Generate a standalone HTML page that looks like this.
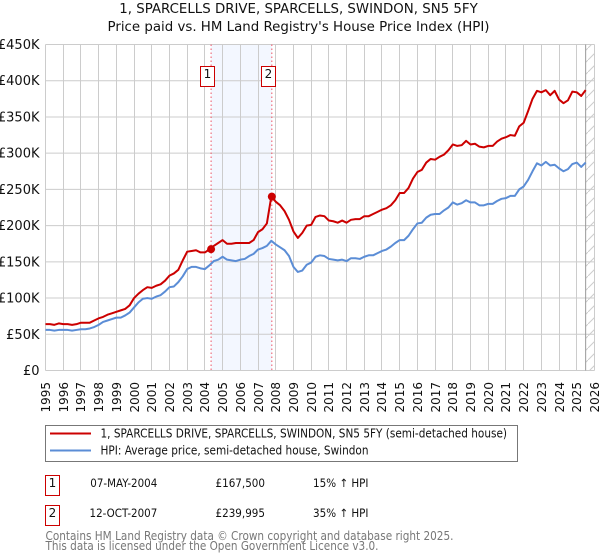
<!DOCTYPE html>
<html>
<head>
<meta charset="utf-8">
<title>1, SPARCELLS DRIVE house price chart</title>
<style>
html,body{margin:0;padding:0;background:#fff;}
svg{display:block;}
text{font-family:"DejaVu Sans",sans-serif;fill:#111;}
</style>
</head>
<body>
<svg id="chart" width="600" height="560" viewBox="0 0 600 560" xmlns="http://www.w3.org/2000/svg">
<defs>
<pattern id="hatch" patternUnits="userSpaceOnUse" width="12" height="12">
<line x1="0" y1="12" x2="12" y2="0" stroke="#ccc" stroke-width="1"/>
</pattern>
</defs>
<text x="298.5" y="13" font-size="13" text-anchor="middle" textLength="358.5" lengthAdjust="spacingAndGlyphs">1, SPARCELLS DRIVE, SPARCELLS, SWINDON, SN5 5FY</text>
<text x="298.5" y="31" font-size="13" text-anchor="middle" textLength="382" lengthAdjust="spacingAndGlyphs">Price paid vs. HM Land Registry's House Price Index (HPI)</text>
<g id="shade-layer"></g>
<g id="grid-layer"></g>
<g id="hatch-layer"></g>
<g id="sale-lines"></g>
<g id="series-layer"></g>
<g id="marker-layer"></g>
<g id="y-labels"></g>
<g id="x-labels"></g>

<g>
<rect x="45.5" y="425.5" width="472" height="36" fill="#fff" stroke="#777" stroke-width="1"/>
<line x1="50" y1="433.5" x2="91" y2="433.5" stroke="#cc0000" stroke-width="2"/>
<text x="100.5" y="437.5" font-size="12" textLength="406.5" lengthAdjust="spacingAndGlyphs">1, SPARCELLS DRIVE, SPARCELLS, SWINDON, SN5 5FY (semi-detached house)</text>
<line x1="50" y1="450.5" x2="91" y2="450.5" stroke="#5b8dd6" stroke-width="2"/>
<text x="100.5" y="454.5" font-size="12" textLength="268" lengthAdjust="spacingAndGlyphs">HPI: Average price, semi-detached house, Swindon</text>
</g>

<g>
<rect x="45.5" y="475.5" width="14" height="20" fill="#fff" stroke="#cc0000" stroke-width="1"/>
<text x="52.5" y="487" font-size="12" text-anchor="middle">1</text>
<text x="90.3" y="487" font-size="11.5" textLength="67" lengthAdjust="spacingAndGlyphs">07-MAY-2004</text>
<text x="215.5" y="487" font-size="11.5" textLength="49.5" lengthAdjust="spacingAndGlyphs">£167,500</text>
<text x="313" y="487" font-size="11.5" textLength="55.5" lengthAdjust="spacingAndGlyphs">15% ↑ HPI</text>
</g>
<g>
<rect x="45.5" y="505.5" width="14" height="20" fill="#fff" stroke="#cc0000" stroke-width="1"/>
<text x="52.5" y="517" font-size="12" text-anchor="middle">2</text>
<text x="89.5" y="517" font-size="11.5" textLength="67.8" lengthAdjust="spacingAndGlyphs">12-OCT-2007</text>
<text x="215.5" y="517" font-size="11.5" textLength="49.5" lengthAdjust="spacingAndGlyphs">£239,995</text>
<text x="313" y="517" font-size="11.5" textLength="55.5" lengthAdjust="spacingAndGlyphs">35% ↑ HPI</text>
</g>
<text x="45.5" y="540" font-size="12" style="fill:#777" textLength="408" lengthAdjust="spacingAndGlyphs">Contains HM Land Registry data © Crown copyright and database right 2025.</text>
<text x="45.5" y="550" font-size="12" style="fill:#777" textLength="333" lengthAdjust="spacingAndGlyphs">This data is licensed under the Open Government Licence v3.0.</text>
</svg>
<script>
const yearTicks = [1995,1996,1997,1998,1999,2000,2001,2002,2003,2004,2005,2006,2007,2008,2009,2010,2011,2012,2013,2014,2015,2016,2017,2018,2019,2020,2021,2022,2023,2024,2025,2026];
const valueTicks = [0,50,100,150,200,250,300,350,400,450];
const valueTickLabels = ["£0","£50K","£100K","£150K","£200K","£250K","£300K","£350K","£400K","£450K"];
const seriesStartYear = 1995;
const pricePaid = [
64,64,63,65, 64,64,63,64, 66,66,66,69, 72,74,77,79, 81,83,85,90,
100,106,111,115, 114,117,119,124, 131,134,139,152, 164,165,166,163,
163,167,172,176, 180,175,175,176, 176,176,176,180, 191,195,203,240,
233,228,220,208, 192,183,190,200, 201,212,214,213, 207,206,204,207,
204,208,209,209, 213,213,216,219, 222,224,228,235, 245,245,252,265,
274,277,287,292, 291,295,298,304, 312,310,311,317, 312,313,309,308,
310,310,316,320, 322,325,324,337, 342,358,375,386, 384,387,380,386,
374,369,373,385, 384,379,387];
const hpiIndex = [
56,56,55,56, 56,56,55,56, 57,57,58,60, 63,67,69,71, 73,73,76,80,
87,94,99,100, 99,102,104,109, 115,116,122,130, 140,143,143,141,
140,145,151,153, 157,153,152,151, 153,154,158,161, 167,169,172,179,
174,170,166,158, 143,136,138,146, 149,157,159,158, 154,153,152,153,
151,155,155,154, 157,159,159,162, 165,167,171,176, 180,180,186,195,
203,204,211,215, 216,216,221,225, 232,229,231,235, 232,232,228,228,
230,230,234,237, 238,241,241,250, 254,263,275,286, 283,288,283,284,
279,275,278,285, 287,281,287];
const saleYears = [2004.35, 2007.78];
const saleValues = [167.5, 239.995];
const saleLabels = ["1","2"];

const NS = "http://www.w3.org/2000/svg";
const xScale = y => 45.5 + (y - 1995) * (549 / 31);
const yScale = v => 370.5 - v * (326 / 450);
const layer = id => document.getElementById(id);
function mk(tag, attrs, parent) {
  const el = document.createElementNS(NS, tag);
  for (const k in attrs) el.setAttribute(k, attrs[k]);
  parent.appendChild(el);
  return el;
}

const shade = mk("rect", {x: xScale(saleYears[0]), y: yScale(450), width: xScale(saleYears[1]) - xScale(saleYears[0]), height: yScale(0) - yScale(450), fill: "#f3f7ff"}, layer("shade-layer"));



valueTicks.forEach((v, i) => {
  const y = yScale(v);
  const g = mk("line", {x1: 45.5, x2: 594.5, y1: y, y2: y, stroke: "#ccc", "stroke-width": 1}, layer("grid-layer"));
  
  
  const t = mk("text", {x: 39.5, y: y + 4.5, "font-size": 13, "text-anchor": "end"}, layer("y-labels"));
  
  
  t.textContent = valueTickLabels[i];
});
yearTicks.forEach(yr => {
  const x = Math.round(xScale(yr) - 0.5) + 0.5;
  const g = mk("line", {x1: x, x2: x, y1: yScale(450), y2: yScale(0), stroke: "#ccc", "stroke-width": 1}, layer("grid-layer"));
  
  
  const t = mk("text", {x: 0, y: 0, "font-size": 12, "text-anchor": "end", transform: "translate(" + (x + 4.5) + ",382) rotate(-90)"}, layer("x-labels"));
  
  
  t.textContent = yr;
});

const hatchStart = seriesStartYear + (pricePaid.length - 1) / 4;
const hx = xScale(hatchStart);
const hatch = mk("rect", {x: hx, y: yScale(450), width: xScale(2026) - hx, height: yScale(0) - yScale(450), fill: "url(#hatch)"}, layer("hatch-layer"));


const hatchEdge = mk("line", {x1: hx, x2: hx, y1: yScale(450), y2: yScale(0), stroke: "#999", "stroke-width": 1}, layer("hatch-layer"));



saleYears.forEach((yr, i) => {
  const x = xScale(yr);
  const l = mk("line", {x1: x, x2: x, y1: yScale(450), y2: yScale(0), stroke: "#ee5566", "stroke-width": 1, "stroke-dasharray": "1.5 2.5"}, layer("sale-lines"));
  
  
});

function seriesPath(values) {
  return values.map((v, i) => (i ? "L" : "M") + xScale(seriesStartYear + i / 4).toFixed(2) + " " + yScale(v).toFixed(2)).join("");
}
const hpiLine = mk("path", {d: seriesPath(hpiIndex), fill: "none", stroke: "#5b8dd6", "stroke-width": 2, "stroke-linejoin": "round"}, layer("series-layer"));


const priceLine = mk("path", {d: seriesPath(pricePaid), fill: "none", stroke: "#cc0000", "stroke-width": 2, "stroke-linejoin": "round"}, layer("series-layer"));



saleYears.forEach((yr, i) => {
  const x = xScale(yr);
  const c = mk("circle", {cx: x, cy: yScale(saleValues[i]), r: 4, fill: "#cc0000"}, layer("marker-layer"));
  
  
  const b = mk("rect", {x: Math.round(x - 3) - 7.5 + 0, y: 66.5, width: 14, height: 20, fill: "#fff", stroke: "#cc0000", "stroke-width": 1}, layer("marker-layer"));
  
  
  const t = mk("text", {x: Math.round(x - 3) - 0.5, y: 78, "font-size": 12, "text-anchor": "middle"}, layer("marker-layer"));
  
  
  t.textContent = saleLabels[i];
});
</script>
</body>
</html>
